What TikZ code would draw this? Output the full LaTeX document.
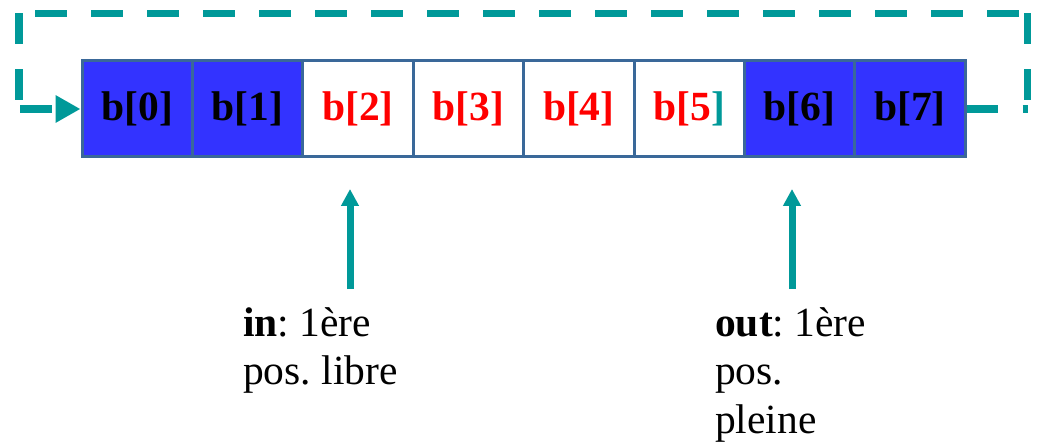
\documentclass[tikz,border=0pt]{standalone}
\usepackage{fontspec}
\setmainfont{Liberation Serif}
\usetikzlibrary{arrows.meta}
\frenchspacing
\definecolor{cellblue}{HTML}{3333FF}
\definecolor{cellline}{HTML}{3A6899}
\definecolor{teal2}{HTML}{009999}
\definecolor{red2}{HTML}{FF0000}
\tikzset{
  cell/.style={draw=cellline, line width=3pt, minimum width=110.4pt, minimum height=96pt,
    inner sep=0pt, anchor=center, font=\fontsize{41.5}{48}\selectfont\bfseries},
  full/.style={cell, fill=cellblue, text=black},
  empty/.style={cell, fill=white, text=red2},
  loopdash/.style={draw=teal2, line width=7.5pt, dash pattern=on 31.7pt off 24.3pt},
  ptrarrow/.style={draw=teal2, line width=7pt, -{Triangle[length=17pt,width=17pt]}},
  note/.style={anchor=north west, inner sep=0pt, align=left, font=\fontsize{41.5}{48.5}\selectfont}
}
\begin{document}
\begin{tikzpicture}[x=1pt,y=-1pt]
\useasboundingbox (0,0) rectangle (1038,446);
\node[full]  (c0) at (137.2,109) {b[0]};
\node[full]  (c1) at (247.6,109) {b[1]};
\node[empty] (c2) at (358.0,109) {b[2]};
\node[empty] (c3) at (468.4,109) {b[3]};
\node[empty] (c4) at (578.8,109) {b[4]};
\node[empty] (c5) at (689.2,109) {b[5\textcolor{teal2}{]}};
\node[full]  (c6) at (799.6,109) {b[6]};
\node[full]  (c7) at (910.0,109) {b[7]};
% loop back from b[7] to b[0]
\coordinate (r1) at (1027.5,109);
\coordinate (r2) at (1027.5,13.3);
\coordinate (t1) at (1018.5,13.3);
\coordinate (t2) at (35,13.3);
\coordinate (l1) at (19,13.3);
\coordinate (l2) at (19,109);
\coordinate (l3) at (20,109);
\draw[loopdash] (c7.east) -- (r1);
\draw[loopdash, dash pattern=on 30.7pt off 25.3pt] (r2) -- (r1);
\draw[loopdash] (t2) -- (t1);
\draw[loopdash, dash pattern=on 30.7pt off 25.3pt] (l1) -- (l2);
\draw[loopdash, -{Triangle[length=25pt,width=26pt]}] (l3) -- (c0.west);
% pointers
\node[note] (in) at (243,307) {\textbf{in}: 1ère\\pos. libre};
\node[note] (out) at (715,307) {\textbf{out}: 1ère\\pos.\\pleine};
\coordinate (inbase) at (350,289);
\coordinate (intip) at (350,189);
\coordinate (outbase) at (792,289);
\coordinate (outtip) at (792,189);
\draw[ptrarrow] (inbase) -- (intip);
\draw[ptrarrow] (outbase) -- (outtip);
\end{tikzpicture}
\end{document}
